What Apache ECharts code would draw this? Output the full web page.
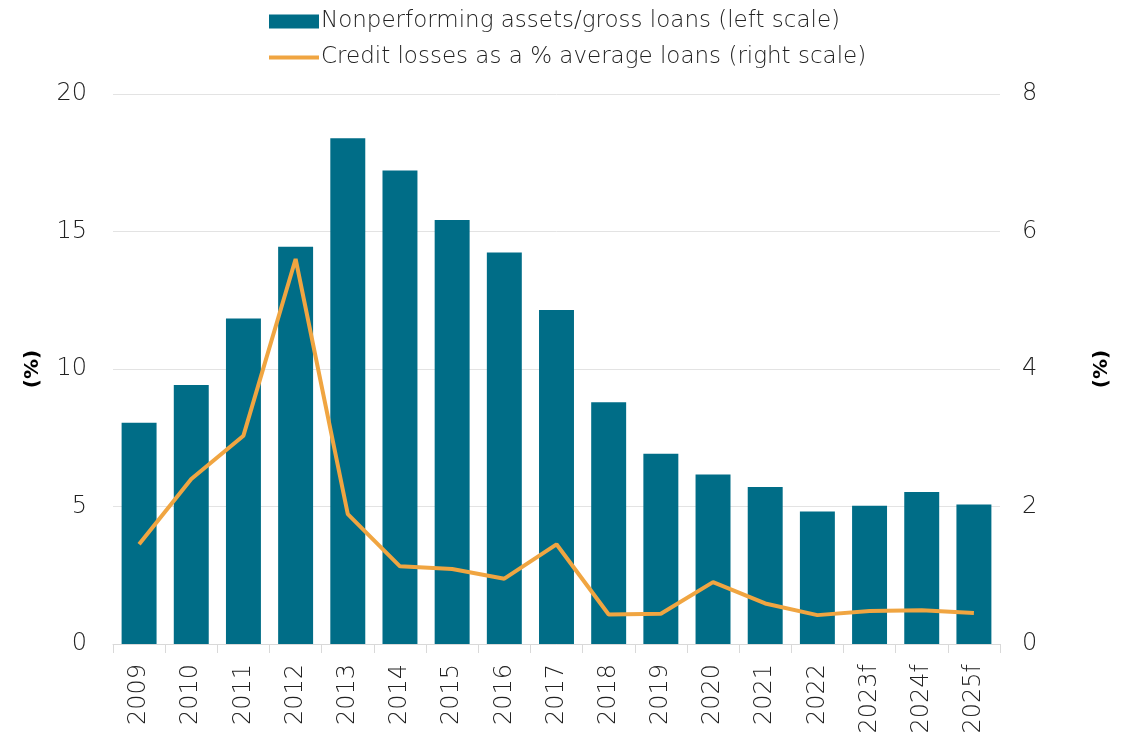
<!DOCTYPE html>
<html>
<head>
<meta charset="utf-8">
<script src="https://cdn.jsdelivr.net/npm/echarts@6/dist/echarts.min.js"></script>
<style>
  html, body { margin: 0; padding: 0; background: #ffffff; }
  #chart { width: 1135px; height: 733px; }
</style>
</head>
<body>
<div id="chart"></div>
<script>
// Years shown on the category axis
const years = ['2009', '2010', '2011', '2012', '2013', '2014', '2015', '2016', '2017',
  '2018', '2019', '2020', '2021', '2022', '2023f', '2024f', '2025f'];

// Nonperforming assets / gross loans, % (left axis)
const npaRatio = [8.05, 9.42, 11.84, 14.45, 18.39, 17.22, 15.42, 14.24, 12.15,
  8.79, 6.92, 6.16, 5.71, 4.82, 5.03, 5.53, 5.07];

// Credit losses as a % of average loans (right axis)
const creditLosses = [1.45, 2.40, 3.03, 5.60, 1.89, 1.13, 1.09, 0.95, 1.45,
  0.43, 0.44, 0.90, 0.59, 0.42, 0.48, 0.49, 0.45];

// Axis ranges and tick steps
const leftTicks = { min: 0, max: 20, interval: 5 };
const rightTicks = { min: 0, max: 8, interval: 2 };

const FONT = 'DejaVu Sans';
const TEXT = '#222222';
const BAR = '#006d87';
const LINE = '#f0a541';

const chart = echarts.init(document.getElementById('chart'), null, { renderer: 'canvas' });

chart.setOption({
  animation: false,
  backgroundColor: '#ffffff',
  textStyle: { fontFamily: FONT },
  legend: {
    orient: 'vertical',
    left: 262,
    top: 5,
    itemWidth: 50,
    itemHeight: 14,
    itemGap: 13,
    textStyle: { fontFamily: FONT, fontSize: 23, fontWeight: 200, color: TEXT, padding: [0, 0, 0, -3] },
    data: [
      { name: 'Nonperforming assets/gross loans (left scale)', icon: 'rect' },
      { name: 'Credit losses as a % average loans (right scale)', itemStyle: { opacity: 0 }, lineStyle: { width: 4 } }
    ]
  },
  grid: { left: 113, right: 135, top: 94, bottom: 89, containLabel: false, outerBoundsMode: 'none' },
  xAxis: {
    type: 'category',
    data: years,
    boundaryGap: true,
    axisLine: { show: true, lineStyle: { color: '#d9d9d9', width: 1 } },
    axisTick: { show: true, length: 9, alignWithLabel: false, lineStyle: { color: '#d9d9d9' } },
    axisLabel: {
      rotate: 90,
      interval: 0,
      margin: 20,
      fontFamily: FONT,
      fontSize: 24,
      fontWeight: 200,
      color: TEXT
    },
    splitLine: { show: false }
  },
  yAxis: [
    {
      type: 'value',
      min: leftTicks.min,
      max: leftTicks.max,
      interval: leftTicks.interval,
      name: '(%)',
      nameLocation: 'middle',
      nameGap: 70,
      nameRotate: 90,
      nameTextStyle: { fontFamily: FONT, fontSize: 20, fontWeight: 'bold', color: '#000000' },
      axisLine: { show: false },
      axisTick: { show: false },
      axisLabel: { fontFamily: FONT, fontSize: 24, fontWeight: 200, color: TEXT, margin: 26 },
      splitLine: { show: true, lineStyle: { color: '#e3e3e3', width: 1 } }
    },
    {
      type: 'value',
      min: rightTicks.min,
      max: rightTicks.max,
      interval: rightTicks.interval,
      name: '(%)',
      nameLocation: 'middle',
      nameGap: 92,
      nameRotate: 90,
      nameTextStyle: { fontFamily: FONT, fontSize: 20, fontWeight: 'bold', color: '#000000' },
      axisLine: { show: false },
      axisTick: { show: false },
      axisLabel: { fontFamily: FONT, fontSize: 24, fontWeight: 200, color: TEXT, margin: 22 },
      splitLine: { show: false }
    }
  ],
  series: [
    {
      name: 'Nonperforming assets/gross loans (left scale)',
      type: 'bar',
      yAxisIndex: 0,
      data: npaRatio,
      barCategoryGap: '33%',
      itemStyle: { color: BAR }
    },
    {
      name: 'Credit losses as a % average loans (right scale)',
      type: 'line',
      yAxisIndex: 1,
      data: creditLosses,
      symbol: 'none',
      lineStyle: { color: LINE, width: 4 },
      itemStyle: { color: LINE }
    }
  ]
});
</script>
</body>
</html>
